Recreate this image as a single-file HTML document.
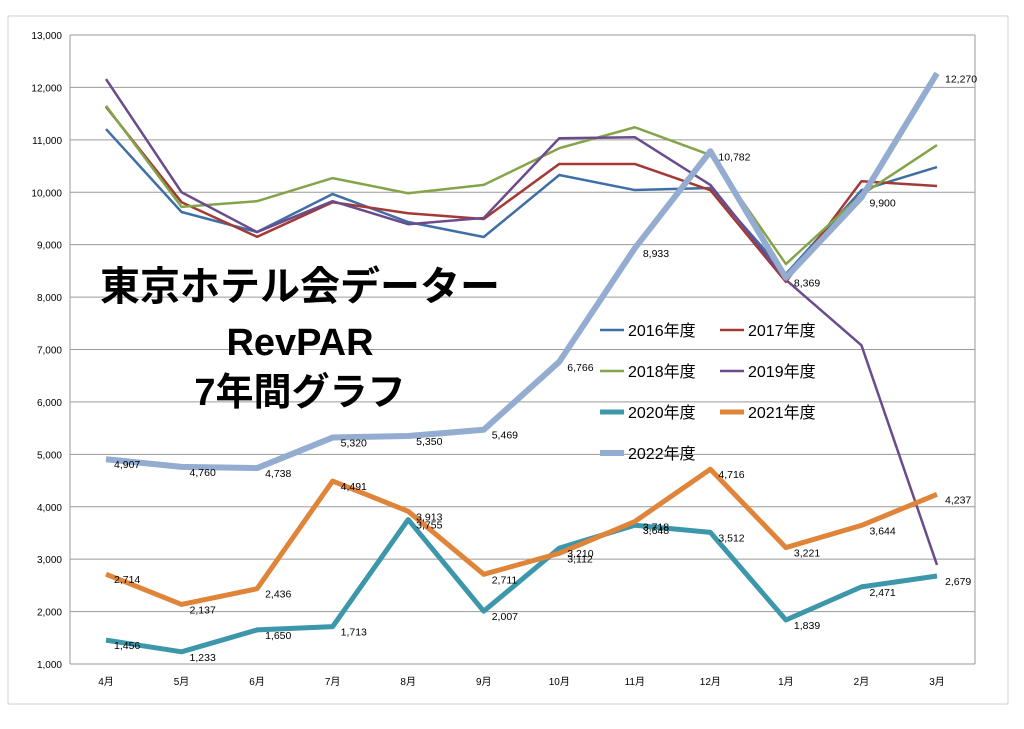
<!DOCTYPE html>
<html><head><meta charset="utf-8"><style>
body{margin:0;background:#fff;}
svg text{font-family:"Liberation Sans","Noto Sans CJK JP",sans-serif;}
</style></head><body>
<svg id="c" width="1024" height="724" xmlns="http://www.w3.org/2000/svg">
<rect x="0" y="0" width="1024" height="724" fill="#fff"/>
<rect x="8" y="16" width="1000" height="688" fill="none" stroke="#d0d0d0"/>
<g id="grid"></g><g id="series"></g><g id="labels"></g>
<g font-weight="bold" fill="#000" text-anchor="middle">
<text x="300" y="300" font-size="40" font-family="Liberation Sans, Noto Sans CJK JP, sans-serif">東京ホテル会データー</text>
<text x="300" y="355" font-size="38">RevPAR</text>
<text x="300" y="405" font-size="38">7年間グラフ</text>
</g>
<g id="legend"></g>
</svg>
<script>
const months=["4月","5月","6月","7月","8月","9月","10月","11月","12月","1月","2月","3月"];
const yTicks=[1000,2000,3000,4000,5000,6000,7000,8000,9000,10000,11000,12000,13000];
const s2016=[11206,9623,9241,9966,9432,9146,10329,10042,10080,8440,10040,10480];
const s2017=[11630,9810,9150,9810,9600,9490,10540,10540,10040,8290,10210,10120];
const s2018=[11650,9720,9830,10270,9980,10140,10840,11240,10710,8630,9950,10900];
const s2019=[12160,10000,9240,9830,9390,9510,11030,11050,10140,8330,7080,2890];
const s2020=[1456,1233,1650,1713,3755,2007,3210,3648,3512,1839,2471,2679];
const s2021=[2714,2137,2436,4491,3913,2711,3112,3718,4716,3221,3644,4237];
const s2022=[4907,4760,4738,5320,5350,5469,6766,8933,10782,8369,9900,12270];
const NS="http://www.w3.org/2000/svg";
const X0=70,X1=975,Y0=664,Y1=35;
const xs=i=>106+i*(937-106)/11;
const ys=v=>Y0-(v-1000)/12000*(Y0-Y1);
function mk(t,a,p){const e=document.createElementNS(NS,t);for(const k in a)e.setAttribute(k,a[k]);p.appendChild(e);return e;}
const grid=document.getElementById('grid');
yTicks.forEach(v=>{
 const l=mk('line',{x1:X0,x2:X1,y1:ys(v),y2:ys(v),stroke:'#9a9a9a','stroke-width':1},grid);
 
 
 const t=mk('text',{x:X0-8,y:ys(v)+4,'font-size':10,'text-anchor':'end',fill:'#000'},grid);
 t.textContent=v.toLocaleString('en-US');
 
 
});
const ax=mk('line',{x1:X0,x2:X0,y1:Y1,y2:Y0,stroke:'#9a9a9a'},grid);


const rb=mk('line',{x1:X1,x2:X1,y1:Y1,y2:Y0,stroke:'#9a9a9a'},grid);


months.forEach((m,i)=>{
 const t=mk('text',{x:xs(i),y:685,'font-size':10,'text-anchor':'middle',fill:'#000'},grid);
 t.textContent=m;
 
 
});
const ser=[
 ["2016年度",s2016,"#3f6fa6",2.5,false],
 ["2017年度",s2017,"#a33a36",2.5,false],
 ["2018年度",s2018,"#84a44a",2.5,false],
 ["2019年度",s2019,"#6a4c8c",2.5,false],
 ["2020年度",s2020,"#3d97aa",5,true],
 ["2021年度",s2021,"#e0843a",5,true],
 ["2022年度",s2022,"#93acd0",6,true]];
const sg=document.getElementById('series'),lg=document.getElementById('labels'),leg=document.getElementById('legend');
ser.forEach(([name,d,col,w,lab],k)=>{
 const p=mk('polyline',{points:d.map((v,i)=>xs(i)+','+ys(v)).join(' '),fill:'none',stroke:col,'stroke-width':w,'stroke-linejoin':'round'},sg);
 
 
 if(lab)d.forEach((v,i)=>{
  const t=mk('text',{x:xs(i)+8,y:ys(v)+9,'font-size':10.5,fill:'#000'},lg);
  t.textContent=v.toLocaleString('en-US');
  
  
 });
 const lx=600+(k%2)*120,ly=330+Math.floor(k/2)*41;
 const g=mk('g',{},leg);
 
 
 mk('line',{x1:lx,x2:lx+24,y1:ly,y2:ly,stroke:col,'stroke-width':w},g);
 const t=mk('text',{x:lx+28,y:ly+6,'font-size':16,fill:'#000'},g);
 t.textContent=name;
});
</script>
</body></html>
